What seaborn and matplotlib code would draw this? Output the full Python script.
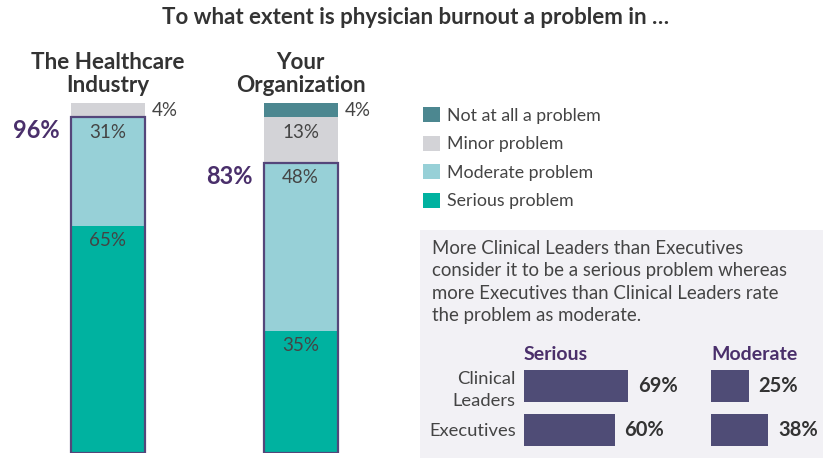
import matplotlib
matplotlib.use("Agg")
import matplotlib.pyplot as plt
from matplotlib.patches import Patch, Rectangle
import seaborn as sns
import numpy as np

sns.set_style("white")
plt.rcParams["font.family"] = ["Lato", "DejaVu Sans"]

# data
groups = ["The Healthcare\nIndustry", "Your\nOrganization"]
serious = [65, 35]
moderate = [31, 48]
minor = [4, 13]
not_at_all = [0, 4]

levels = ["Not at all a problem", "Minor problem", "Moderate problem", "Serious problem"]
level_colors = ["#4c8790", "#d3d3d7", "#97d0d7", "#00b2a0"]

roles = ["Clinical\nLeaders", "Executives"]
serious_by_role = [69, 60]
moderate_by_role = [25, 38]

note = ("More Clinical Leaders than Executives\n"
        "consider it to be a serious problem whereas\n"
        "more Executives than Clinical Leaders rate\n"
        "the problem as moderate.")

purple = "#4a2f6b"
outline = "#54467a"
role_bar = "#4f4c76"
text_col = "#444444"
W, H = 832, 467

fig = plt.figure(figsize=(W / 100, H / 100), dpi=100)
fig.patch.set_facecolor("white")

fig.text(0.5, 1 - 18 / H, "To what extent is physician burnout a problem in \u2026",
         ha="center", va="center", fontsize=16, fontweight="bold", color="#333333")

# main stacked bars
ax = fig.add_axes([0, 14 / H, 400 / W, 350 / H])
c_ser = np.array(serious)
c_mod = c_ser + np.array(moderate)
c_min = c_mod + np.array(minor)
c_all = c_min + np.array(not_at_all)
bw = 74 / 192.5
for cum, col in zip([c_all, c_min, c_mod, c_ser], level_colors):
    sns.barplot(x=groups, y=cum, color=col, saturation=1, width=bw,
                linewidth=0, ax=ax)
sns.barplot(x=groups, y=c_mod, color=outline, fill=False, width=bw,
            linewidth=1.6, ax=ax)
ax.set_xlim(-108 / 192.5, 292 / 192.5)
ax.set_ylim(0, 100)
ax.axis("off")

segs = [(serious, c_ser), (moderate, c_mod), (minor, c_min), (not_at_all, c_all)]
for i in range(len(groups)):
    for vals, tops in segs:
        v = vals[i]
        if v == 0:
            continue
        if v >= 8:
            ax.annotate(f"{v}%", xy=(i, tops[i]), xytext=(0, -11),
                        textcoords="offset points", ha="center", va="center",
                        fontsize=13.5, color=text_col)
        else:
            ax.annotate(f"{v}%", xy=(i + bw / 2, tops[i] - v / 2), xytext=(5, 0),
                        textcoords="offset points", ha="left", va="center",
                        fontsize=13.5, color=text_col)
    ax.annotate(f"{c_mod[i]}%", xy=(i - bw / 2, c_mod[i]), xytext=(-8, -10),
                textcoords="offset points", ha="right", va="center",
                fontsize=17, fontweight="bold", color=purple)
    ax.annotate(groups[i], xy=(i, 100), xytext=(0, 5), textcoords="offset points",
                ha="center", va="bottom", fontsize=16.2, fontweight="bold",
                color="#333333", linespacing=1.12, annotation_clip=False)

# legend
handles = [Patch(facecolor=c, edgecolor="none") for c in level_colors]
fig.legend(handles, levels, loc="upper left", bbox_to_anchor=(416 / W, 1 - 100 / H),
           frameon=False, fontsize=12.8, handlelength=0.95, handleheight=0.95,
           handletextpad=0.4, labelspacing=0.66, labelcolor=text_col,
           borderaxespad=0)

# callout box
fig.patches.append(Rectangle((420 / W, 9 / H), 403 / W, 228 / H,
                             transform=fig.transFigure, facecolor="#f2f1f5",
                             edgecolor="none", zorder=-1))
fig.text(432 / W, 1 - 240 / H, note, ha="left", va="top", fontsize=13.4,
         color=text_col, linespacing=1.38)

for left, vals, title, show_ticks in [(524, serious_by_role, "Serious", True),
                                      (711, moderate_by_role, "Moderate", False)]:
    a = fig.add_axes([left / W, 15 / H, 151 / W, 88 / H])
    sns.barplot(x=vals, y=roles, orient="h", color=role_bar, saturation=1,
                width=32 / 44, linewidth=0, ax=a)
    a.set_xlim(0, 100)
    a.set_ylim(1.5, -0.5)
    a.set_facecolor("none")
    for s in a.spines.values():
        s.set_visible(False)
    a.set_xticks([])
    a.set_xlabel("")
    a.set_ylabel("")
    a.tick_params(axis="y", length=0, pad=6, labelsize=13.2, labelcolor=text_col)
    if show_ticks:
        for lab in a.get_yticklabels():
            lab.set_linespacing(1.45)
    else:
        a.set_yticklabels([])
    a.bar_label(a.containers[0], fmt="{:.0f}%", padding=7, fontsize=14.5,
                fontweight="bold", color="#333333")
    a.set_title(title, loc="left", pad=3, fontsize=14, fontweight="bold", color=purple)

fig.savefig("out.png", dpi=100)
